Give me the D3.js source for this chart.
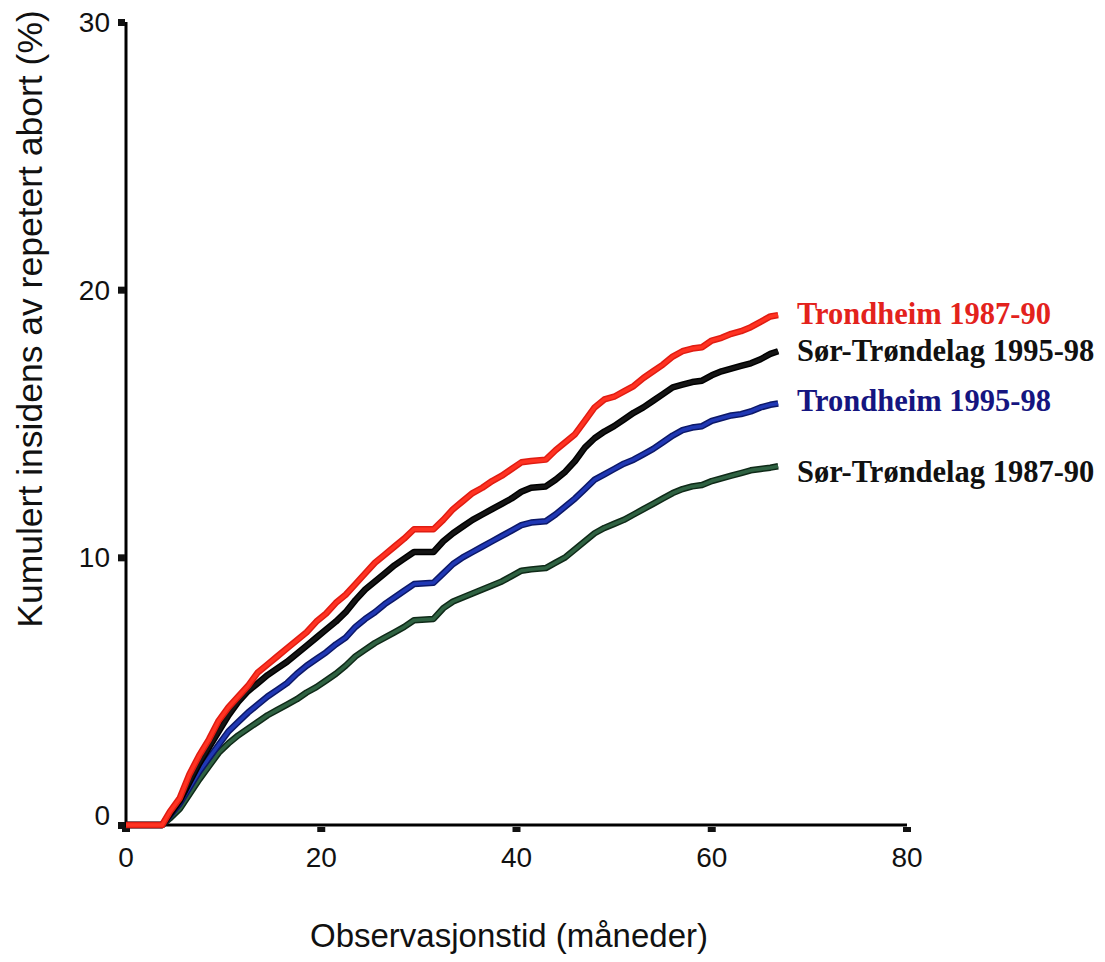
<!DOCTYPE html>
<html>
<head>
<meta charset="utf-8">
<script src="https://cdn.jsdelivr.net/npm/d3@7"></script>
<style>
  html, body { margin: 0; padding: 0; background: #fff; }
  svg { display: block; }
</style>
</head>
<body>
<svg id="chart" width="1105" height="962"></svg>
<script>
// ---- Data ----
const months = [0, 3.7, 4.5, 5.5, 6.5, 7.5, 8.5, 9.5, 10.5, 11.5, 12.5, 13.5, 14.5, 15.5, 16.5, 17.5, 18.5, 19.5, 20.5, 21.5, 22.5, 23.5, 24.5, 25.5, 26.5, 27.5, 28.5, 29.5, 31.5, 32.5, 33.5, 34.5, 35.5, 36.5, 37.5, 38.5, 39.5, 40.5, 41.5, 43, 44, 45, 46, 47, 48, 49, 50, 51, 52, 53, 54, 55, 56, 57, 58, 59, 60, 61, 62, 63, 64, 65, 66, 66.8];

const trondheim8790 = [0, 0, 0.5, 1.0, 1.9, 2.6, 3.2, 3.9, 4.4, 4.8, 5.2, 5.7, 6.0, 6.3, 6.6, 6.9, 7.2, 7.6, 7.9, 8.3, 8.6, 9.0, 9.4, 9.8, 10.1, 10.4, 10.7, 11.05, 11.05, 11.4, 11.8, 12.1, 12.4, 12.6, 12.85, 13.05, 13.3, 13.55, 13.6, 13.65, 14.0, 14.3, 14.6, 15.1, 15.6, 15.9, 16.0, 16.2, 16.4, 16.7, 16.95, 17.2, 17.5, 17.7, 17.8, 17.85, 18.1, 18.2, 18.35, 18.45, 18.6, 18.8, 19.0, 19.05];

const sorTrondelag9598 = [0, 0, 0.4, 0.9, 1.6, 2.3, 2.9, 3.5, 4.1, 4.6, 5.0, 5.3, 5.6, 5.85, 6.1, 6.4, 6.7, 7.0, 7.3, 7.6, 7.95, 8.4, 8.8, 9.1, 9.4, 9.7, 9.95, 10.2, 10.2, 10.6, 10.9, 11.15, 11.4, 11.6, 11.8, 12.0, 12.2, 12.45, 12.6, 12.65, 12.9, 13.2, 13.6, 14.1, 14.45, 14.7, 14.9, 15.15, 15.4, 15.6, 15.85, 16.1, 16.35, 16.45, 16.55, 16.6, 16.8, 16.95, 17.05, 17.15, 17.25, 17.4, 17.6, 17.7];

const trondheim9598 = [0, 0, 0.35, 0.8, 1.4, 2.0, 2.5, 3.0, 3.5, 3.85, 4.2, 4.5, 4.8, 5.05, 5.3, 5.65, 5.95, 6.2, 6.45, 6.75, 7.0, 7.4, 7.7, 7.95, 8.25, 8.5, 8.75, 9.0, 9.05, 9.4, 9.75, 10.0, 10.2, 10.4, 10.6, 10.8, 11.0, 11.2, 11.3, 11.35, 11.6, 11.9, 12.2, 12.55, 12.9, 13.1, 13.3, 13.5, 13.65, 13.85, 14.05, 14.3, 14.55, 14.75, 14.85, 14.9, 15.1, 15.2, 15.3, 15.35, 15.45, 15.6, 15.7, 15.75];

const sorTrondelag8790 = [0, 0, 0.25, 0.6, 1.15, 1.7, 2.2, 2.7, 3.05, 3.35, 3.6, 3.85, 4.1, 4.3, 4.5, 4.7, 4.95, 5.15, 5.4, 5.65, 5.95, 6.3, 6.55, 6.8, 7.0, 7.2, 7.4, 7.65, 7.7, 8.1, 8.35, 8.5, 8.65, 8.8, 8.95, 9.1, 9.3, 9.5, 9.55, 9.6, 9.8, 10.0, 10.3, 10.6, 10.9, 11.1, 11.25, 11.4, 11.6, 11.8, 12.0, 12.2, 12.4, 12.55, 12.65, 12.7, 12.85, 12.95, 13.05, 13.15, 13.25, 13.3, 13.35, 13.4];

const seriesNames = ["Trondheim 1987-90", "Sør-Trøndelag 1995-98", "Trondheim 1995-98", "Sør-Trøndelag 1987-90"];
const xTicks = [0, 20, 40, 60, 80];
const yTicks = [0, 10, 20, 30];
const xTitle = "Observasjonstid (måneder)";
const yTitle = "Kumulert insidens av repetert abort (%)";

// ---- Styling ----
const seriesValues = [trondheim8790, sorTrondelag9598, trondheim9598, sorTrondelag8790];
const lineColors   = ["#ff3322", "#151515", "#2038b4", "#2f6242"];
const edgeColors   = ["#e01c12", "#000000", "#0c1868", "#0f2a18"];
const labelColors  = ["#e3221c", "#111111", "#151580", "#111111"];
const labelY       = [324, 361, 411, 482];
// draw order: green first, then blue, black, red on top
const drawOrder = [3, 2, 1, 0];

const svg = d3.select("#chart");
const x = d3.scaleLinear().domain([0, 80]).range([126, 907]);
const y = d3.scaleLinear().domain([0, 30]).range([825, 22]);

// axes lines
svg.append("line").attr("x1", x(0)).attr("x2", x(0)).attr("y1", y(30)).attr("y2", y(0) + 2)
  .attr("stroke", "#000").attr("stroke-width", 3);
svg.append("line").attr("x1", x(0) - 3).attr("x2", x(80)).attr("y1", y(0)).attr("y2", y(0))
  .attr("stroke", "#000").attr("stroke-width", 3);

// tick marks (small squares)
svg.selectAll(".xt").data(xTicks).join("rect")
  .attr("x", d => x(d) - 4).attr("y", y(0) + 2).attr("width", 8).attr("height", 5)
  .attr("fill", "#111");
svg.selectAll(".yt").data(yTicks).join("rect")
  .attr("x", x(0) - 8).attr("y", d => y(d) - 3).attr("width", 7).attr("height", 7)
  .attr("fill", "#111");

// tick labels
svg.selectAll(".xl").data(xTicks).join("text")
  .attr("x", d => x(d)).attr("y", 867)
  .attr("text-anchor", "middle")
  .attr("font-family", "Liberation Sans, Arial, sans-serif")
  .attr("font-size", 28).attr("fill", "#111")
  .text(d => d);
svg.selectAll(".yl").data(yTicks).join("text")
  .attr("x", 110).attr("y", d => y(d) + (d === 0 ? 0 : 10))
  .attr("text-anchor", "end")
  .attr("font-family", "Liberation Sans, Arial, sans-serif")
  .attr("font-size", 28).attr("fill", "#111")
  .text(d => d);

// axis titles
svg.append("text")
  .attr("x", 509).attr("y", 947)
  .attr("text-anchor", "middle")
  .attr("font-family", "Liberation Sans, Arial, sans-serif")
  .attr("font-size", 33).attr("fill", "#111")
  .text(xTitle);
svg.append("text")
  .attr("transform", "translate(42,319) rotate(-90)")
  .attr("text-anchor", "middle")
  .attr("font-family", "Liberation Sans, Arial, sans-serif")
  .attr("font-size", 35.5).attr("fill", "#111")
  .text(yTitle);

// lines
const line = d3.line()
  .x(d => x(d[0])).y(d => y(d[1]))
  .curve(d3.curveLinear);

drawOrder.forEach(i => {
  const pts = months.map((m, k) => [m, seriesValues[i][k]]);
  svg.append("path").datum(pts)
    .attr("d", line).attr("fill", "none")
    .attr("stroke", edgeColors[i]).attr("stroke-width", 6.5)
    .attr("stroke-linejoin", "round");
  svg.append("path").datum(pts)
    .attr("d", line).attr("fill", "none")
    .attr("stroke", lineColors[i]).attr("stroke-width", 3.5)
    .attr("stroke-linejoin", "round");
});

// series labels
seriesNames.forEach((name, i) => {
  svg.append("text")
    .attr("x", 797).attr("y", labelY[i])
    .attr("font-family", "Liberation Serif, Times New Roman, serif")
    .attr("font-weight", "bold")
    .attr("font-size", 30.5).attr("fill", labelColors[i])
    .text(name);
});
</script>
</body>
</html>
